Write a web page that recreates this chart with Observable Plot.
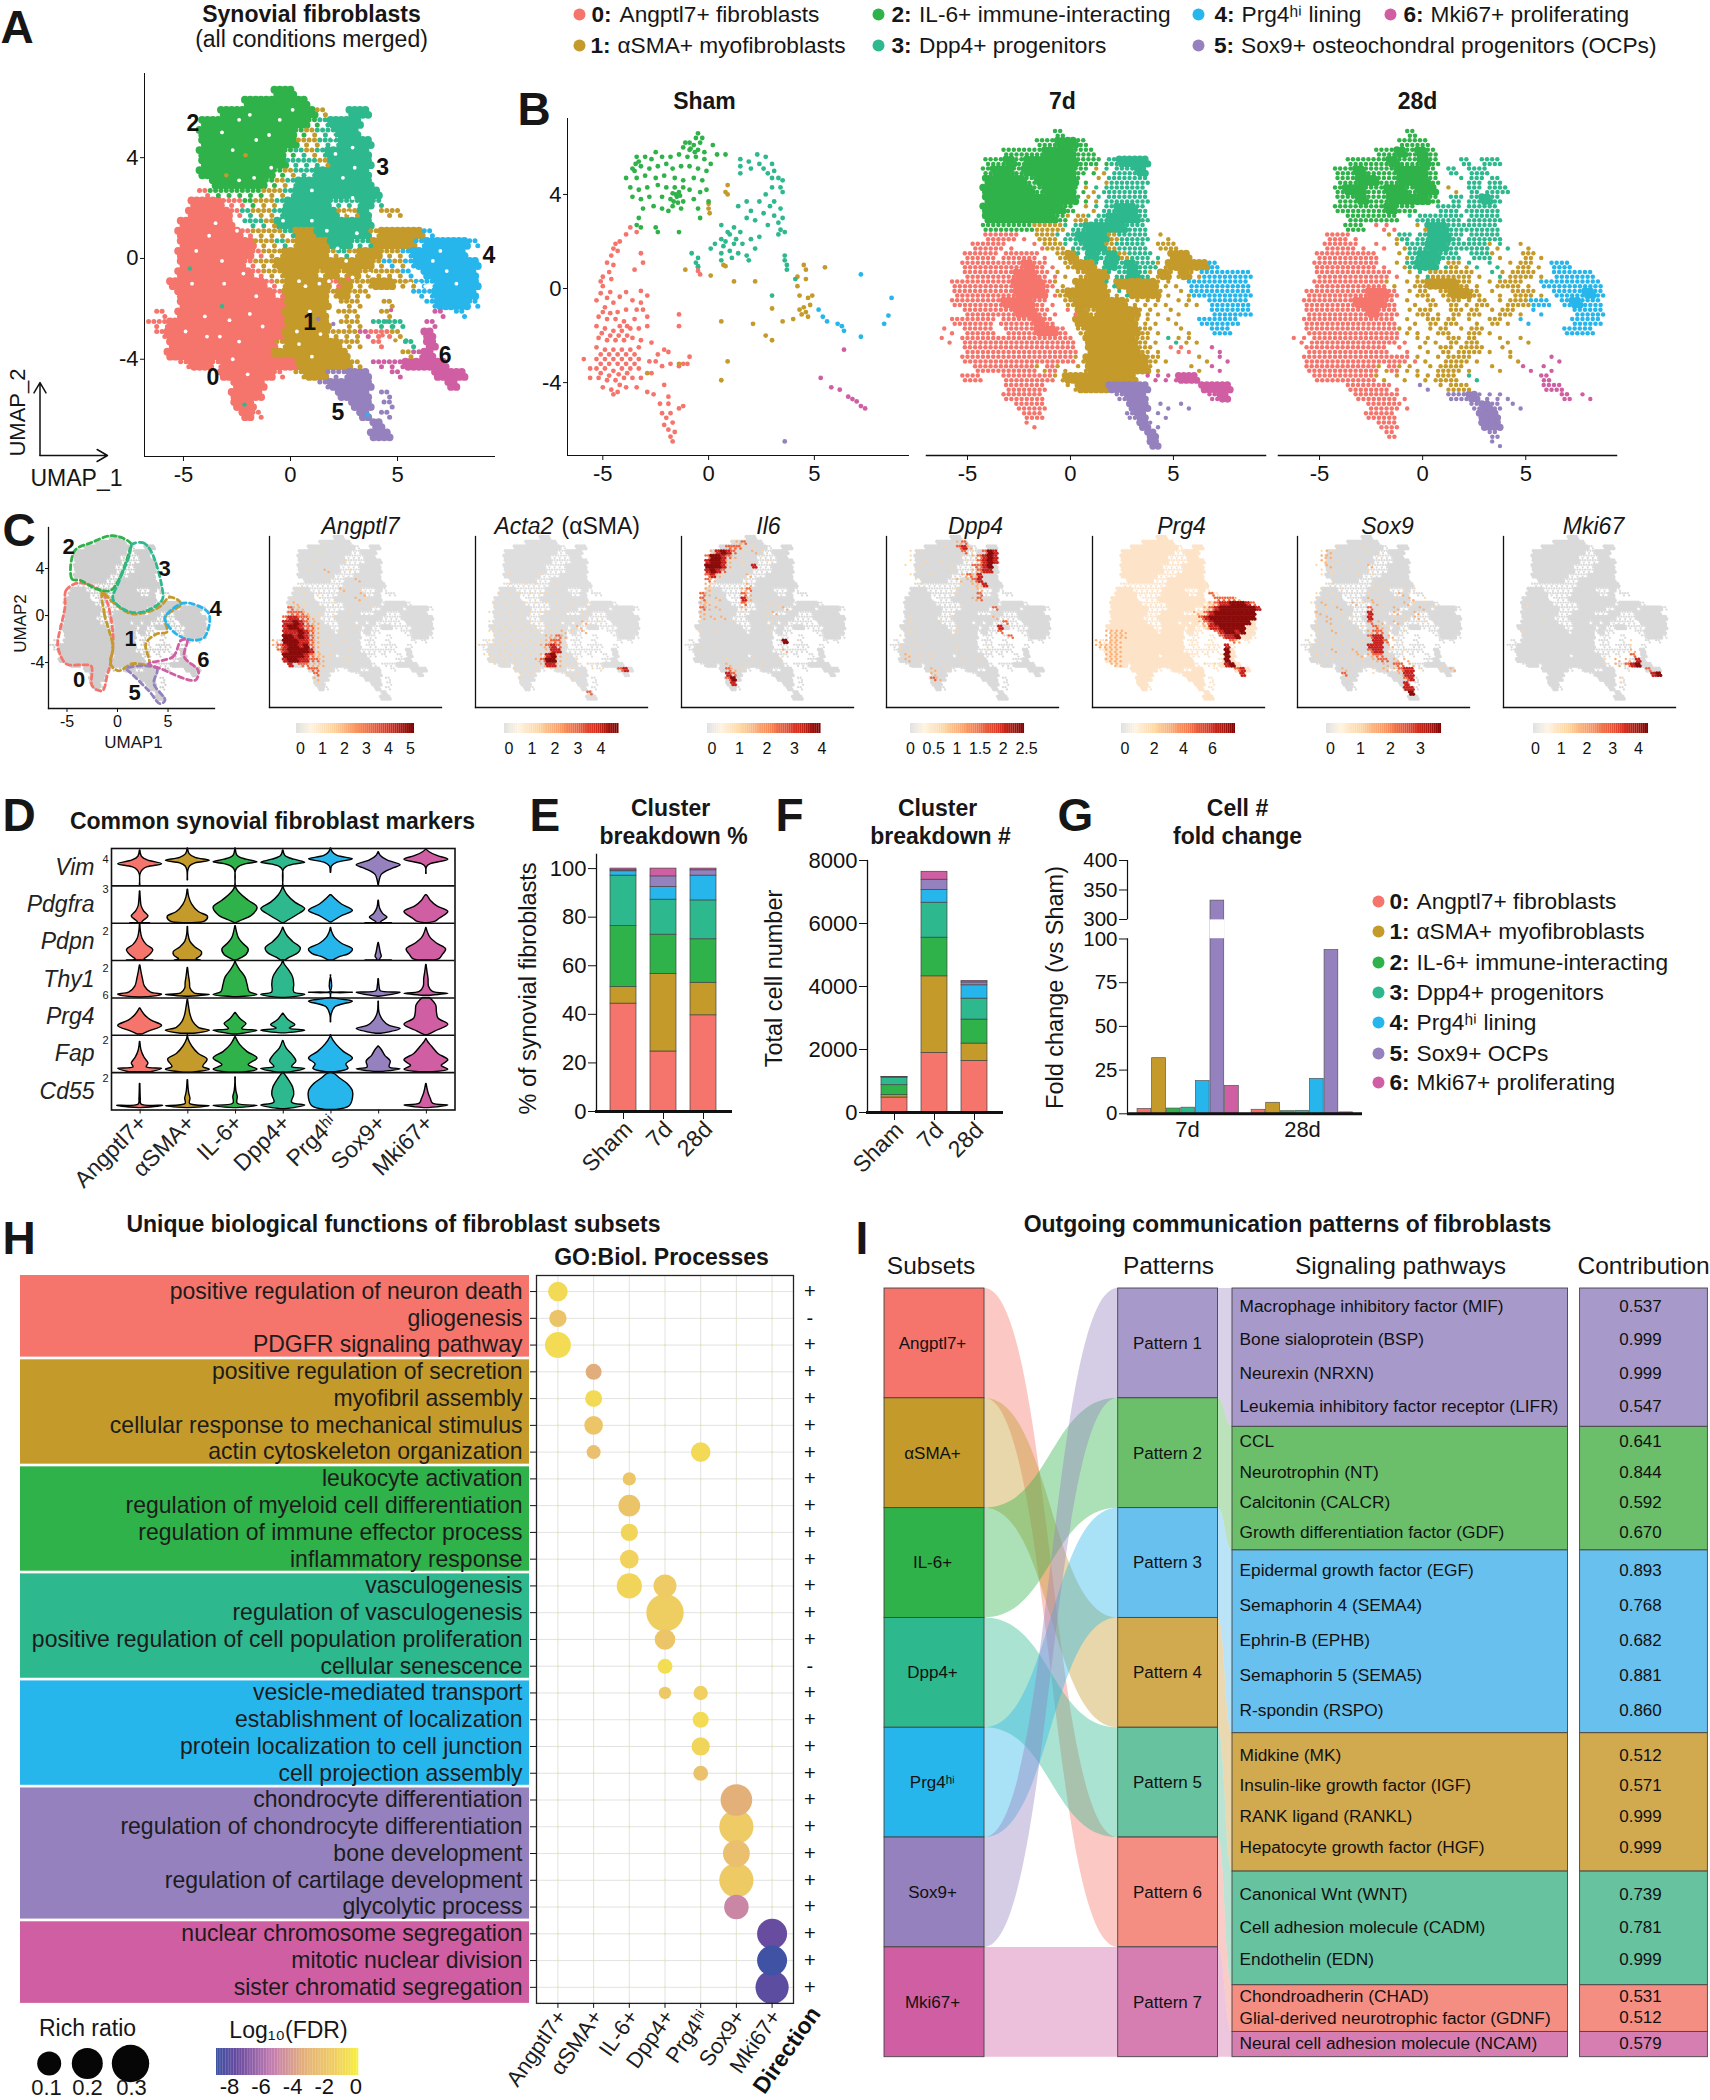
<!DOCTYPE html>
<html><head><meta charset="utf-8">
<script src="https://cdn.jsdelivr.net/npm/d3@7"></script>
<script src="https://cdn.jsdelivr.net/npm/@observablehq/plot@0.6"></script>
<style>html,body{margin:0;background:#fff}#chart{position:relative;width:1710px;height:2100px;overflow:hidden}</style>
</head><body><div id="chart"></div>
<script>
const FONT="'Liberation Sans',Arial,sans-serif";
const clusterIds=[0,1,2,3,4,5,6];
const clusterColors=["#f5756c","#c49a2a","#30b24a","#2eb88e","#27b6ec","#9581bd","#d05ea3"];
const clusterNames=["Angptl7+ fibroblasts","αSMA+ myofibroblasts","IL-6+ immune-interacting","Dpp4+ progenitors","Prg4ʰⁱ lining","Sox9+ OCPs","Mki67+ proliferating"];
const subsetNames=["Angptl7+","αSMA+","IL-6+","Dpp4+","Prg4ʰⁱ","Sox9+","Mki67+"];

// UMAP occupancy: digit=dense cluster, capital=medium, lowercase=sparse (a=0..g=6)
const mapMerged=[
"............22",".........222222",".......222222222b..33",".....2222222222cd333",".....222222222cbdd33",
".....222222222bbdd333",".....22222222cdbd3333",".....22222222dddb3333",".....2222222cbdd33333","......22222cbd3333333",
".....acccccbbd33333333","....000aacbbd3333ddd3d","....0000adbbd33333bb3.bb","...00000.ddb333333333","...000000abbbd1133333b1111e",
"...0000000bbdb11133dd1111e4444e","...0000000abb1111bdb11bbe44444","...000000abb111111111bebe444444","...0000000abb111b1b1bbbbe.44444","..000000000ab1111a1bb11bbee4444",
"...000000000a1111b1bb....ee4444","...00000000001111.bb..b...e444e",".a.00000000001111.bb..b....g.e","aa000000000001111.bb.ddd..g",".a000000000001111bbbgaab..6",
"..0000000000b11111bb.a..d.6","..00000000001111111.....bg6","...a00a000000011111b.ggg6666",".......00000a.b11ff55..g...666","........000.....f5555.......6",
"........000.......555.f","........00.........55.f",".........0a.........5.f",".....................5",".....................55"];
const map7d=[
"............C","..........CC22C",".......CCCC222CC",".....CC2C22222CCcD333",".....C22C22222CcbdDD3",
".....2222C2222c.bDDDD",".....22222C222cbdDDDD",".....222222222cbdDDDD",".....22222222C.bdD33D",".....2222222CbBdD333D",
".....CCCCCBBBdD3333DD",".....AAAa.BBdD333BDDD.b","....AAAa..aBBdD33BDDD.BB","...AAAaAAAa.B1d3D3BDDd.11","...AAAAAA0Aa.B11d3D3DDb1111E",
"...AAAAA00Aab.B11dD3Db1b1bEEEEE","..AAAAAA000Ab.111d1111bb.EEEEEE","..AAAAAA000aB1111bd111b.bEEEEEE","..AAAAA000Aa.B11111bbbb.bb.EEEE","...AAAAA00Aa.a1B1111bb.b...EEEE",
"..AAAAaAAA0A..111111bb.b..EEEE",".a.AAA.AAA00A.B11111Bb..b..EE",".a.AAAAAAAAAAA.11111Bb.dbb","...AAAAAAAAAAA.11111Bb.aa..g","...AAAAAAAAAAAb111111Bb...b.g",
"....AAAAAAbAb.b111111b...b.g","...AA..AAAAAb1111111.ggg66",".......AAAA..b1115555.....666",".......AAAA.......F55......G6","........AAA........55.f.f",
".........AA........F5.f",".........a..........5f",".....................5",".....................5"];
const map28d=[
"............C","...........CCC",".........CC2C2C","......CCCC2CC2C..D.DD",".....CC2CCC222C.D.DD",
".....CC22CC222C..dDdD",".....C22CC22C22.b.DdDD",".....CC2CC2222C.DdD3D",".....CCCCC2CC..DDdDDD","......CCCCC.dDDDDdDDD",
"......CC.aa..b33DDDDD","....AAa...bDdD33DdDDD","....AAAa.a.bDD33DDDDbd.b","...AAAAAA..bD33DD.DDb..Bb","...AAAAAAa.bD33dBbd.d.bBb.EE",
"...AAAAAAAa.bdBBBBb.dbBBb.EEEE","...AAAAAAAb.bB111Bb.bBBb.EEEEEE","..AAAAAA00A.bB.B11B.b.BBb.EEE4E","..AAAAA000A.b.B.BbbB.bBBEE.E4EE","..AAAAAA0AA.bBb.BbB.bBb.e...EEE",
"..AAAAAAAAA.b.BbB.b.Bb.e....EEE","..AAAAAAAAAbb.bB.bBb.......EEE",".aaAAAAAAAAa.bb.BbB..b.b","..AAAAAAAA.a.b.BbBBb.b","..AAAAAAAAAAab.bBBb...b...g",
"..AAAAAAAbAbb.bBBb..b..g.g","...AAAAAAb.b.bbBB.d......G","......AAAAa..f.bBB.......GG",".......AAAAa....FF5fff.....G.g","........AAAa......F5F.f",
"........AAA........55",".........AA........55","..........A.........F","....................f"];

// Sham cells (few enough to read one at a time): [umap x, umap y]
const shamFibro=[[-3.7,2.6],[-3.9,2.3],[-3.4,2.4],[-4.2,2],[-4.4,1.9],[-4.5,1.7],[-4.3,1.6],[-4.6,1.4],[-3.2,1.5],[-3.1,1.1],[-4.8,1.1],[-4.5,1],[-4.7,.7],[-5,.5],[-5.1,.3],[-4.6,.4],[-3.5,.8],[-5,.1],[-5.1,-.2],[-4.8,-.4],[-4.5,-.6],[-3.6,-.5],[-3.2,-.1],[-2.9,-.3],[-3.2,-.6],[-3.4,-.9],[-5.3,-.5],[-4.9,-.8],[-4.3,-1],[-3.9,-.9],[-3.1,-.9],[-2.9,-1.2],[-5.2,-1.2],[-4.8,-1.3],[-4.4,-1.3],[-4,-1.4],[-3.5,-1.3],[-5.3,-1.6],[-4.9,-1.7],[-4.5,-1.8],[-4.1,-1.8],[-3.7,-1.7],[-3.3,-1.7],[-2.9,-1.6],[-5.2,-2.1],[-4.8,-2.2],[-4.4,-2.2],[-4,-2.2],[-3.6,-2.1],[-3.2,-2.2],[-2.7,-2.3],[-5.3,-2.5],[-4.9,-2.6],[-4.5,-2.6],[-4.1,-2.6],[-3.7,-2.6],[-3.3,-2.5],[-5.9,-3],[-5.3,-3],[-4.9,-3],[-4.5,-3],[-4.1,-3],[-3.7,-3],[-3.3,-3],[-2.8,-3.1],[-5.6,-3.4],[-5.3,-3.4],[-4.9,-3.4],[-4.5,-3.5],[-4.1,-3.4],[-3.7,-3.4],[-3.3,-3.4],[-5.6,-3.8],[-5.2,-3.8],[-4.8,-3.9],[-4.4,-3.9],[-4,-3.8],[-3.6,-3.8],[-3.2,-3.8],[-5,-4.2],[-4.6,-4.3],[-4.3,-4.4],[-3.9,-4.2],[-3.4,-4.2],[-4.5,-4.5],[-4.2,-4.1],[-1.4,-1.1],[-1.4,-1.6],[-2.7,-3.6],[-2.1,-2.6],[-2.4,-2.8],[-1.9,-2.7],[-2.5,-3.1],[-2.2,-3.3],[-1.8,-3.2],[-1.4,-3.3],[-1.2,-3.2],[-1,-3.2],[-.9,-2.9],[-2.9,-4.4],[-2.6,-4.5],[-2.1,-4.1],[-1.9,-4.6],[-1.9,-4.9],[-2.3,-4.9],[-1.4,-5.1],[-1.2,-5],[-2.2,-5.3],[-2,-5.5],[-1.8,-5.3],[-2.1,-5.8],[-1.9,-6],[-1.6,-6.1],[-1.8,-6.3],[-1.7,-6.5],[-1.7,-5.7],[-.5,.75],[-.4,.6],[-.5,.9],[-4.65,-.15],[-4.2,-.35],[-3.9,-.15],[-5,-1],[-4.65,-1.05],[-4.2,-1.6],[-3.85,-1.6],[-5.05,-1.9],[-4.65,-2],[-4.25,-2],[-3.85,-2],[-5.1,-2.8],[-4.7,-2.8],[-4.3,-2.8],[-3.9,-2.8],[-3.5,-2.8],[-5.1,-3.2],[-4.7,-3.2],[-4.3,-3.2],[-3.9,-3.2],[-3.5,-3.2],[-5.1,-3.6],[-4.7,-3.7],[-4.25,-3.65],[-3.85,-3.6]];
const shamGold=[[0,3.6],[0,3.4],[.05,3.2],[.9,4.4],[.8,4.1],[.9,4],[.7,1],[.8,.95],[-1.1,.8],[.1,.55],[1.2,.3],[2.2,.3],[4.5,1],[4.6,.8],[5.5,.9],[4.6,.4],[4.2,.1],[4.3,-.3],[4.7,-.4],[4.9,-.3],[4.8,-.7],[4.5,-.8],[4.3,-.9],[4.4,-1.1],[4.6,-1],[4.7,-1.2],[3,-.85],[3.5,-1.4],[4,-1.3],[4.2,.5],[3,-2.2],[2.7,-2],[.6,-1.4],[2.1,-1.5],[.9,-3.1],[.6,-3.9],[-1.4,-3.2],[-2.9,-3.6]];
const shamGreen=[[-.5,6.6],[-.6,6.4],[-.3,6.4],[-.9,6.2],[-1.1,6.2],[-.7,6.1],[-.4,6.2],[.2,6.1],[-1.2,6],[-.9,5.9],[-.5,5.9],[-.2,5.8],[.4,5.7],[.8,5.7],[-2.5,5.8],[-3,5.6],[-3.4,5.6],[-3.3,5.4],[-2.7,5.5],[-2.2,5.6],[-1.8,5.6],[-1.4,5.7],[-1,5.6],[-.6,5.6],[-.2,5.5],[.1,5.3],[-3.6,5.1],[-3.2,5.2],[-2.8,5.1],[-2.4,5.2],[-2,5.3],[-1.7,5.1],[-1.3,5.2],[-.9,5.2],[-.5,5.1],[-.1,5],[-3.9,4.7],[-3.4,4.7],[-3,4.8],[-2.5,4.7],[-2.1,4.8],[-1.6,4.7],[-1.2,4.6],[-.7,4.7],[-.3,4.6],[-3.7,4.3],[-3.3,4.2],[-2.9,4.3],[-2.4,4.4],[-2,4.3],[-1.6,4.3],[-1.4,4.1],[-1.2,4.3],[-.9,4.2],[-.4,4.1],[-.1,4.2],[-3.6,3.9],[-3.2,3.8],[-2.8,3.9],[-2.2,3.9],[-1.8,3.8],[-1.5,3.9],[-1.2,3.7],[-.7,3.8],[-3.1,3.4],[-2.6,3.5],[-2.2,3.4],[-1.9,3.3],[-1.7,3.5],[-1.3,3.4],[-.5,3.4],[-.4,3],[0,3.7],[-3.3,3],[-3.4,2.7],[-3.2,2.6],[-2.5,2.6],[-2.4,2.4],[-1.4,2.4],[-3.45,5.3],[-3.5,5],[-1.55,4],[-1.35,3.95],[-1.65,3.7],[-1.45,3.65],[-1.7,4.05],[-.85,5.95],[-.65,5.8]];
const shamTeal=[[2.3,5.7],[2.7,5.6],[1.5,5.5],[1.9,5.4],[2.4,5.3],[3,5.3],[1.5,5.2],[2,5.1],[2.6,5.1],[3.1,5],[2.8,4.9],[3,4.7],[3.3,4.7],[3.5,4.6],[1.5,4.9],[3.4,4.3],[3,4.3],[2.7,4],[3.5,4.1],[2.4,3.7],[1.8,3.7],[3.1,3.7],[2.9,3.5],[3.4,3.4],[1.4,3.5],[2,3.3],[2.6,3.2],[3.1,3.1],[3.5,3],[3.3,2.8],[1.8,3],[2.2,2.9],[2.8,2.7],[3.4,2.5],[3.6,2.4],[3.3,2.3],[.6,2.7],[1.2,2.6],[.9,2.4],[1.5,2.4],[.6,2.1],[.8,2],[1,2.3],[1.3,2.1],[.3,1.9],[.7,1.8],[1.2,1.9],[1.6,1.9],[2,2.1],[2.4,2.2],[.1,1.7],[.6,1.5],[1,1.6],[1.4,1.5],[1.8,1.4],[2.2,1.7],[-.8,1.5],[-.5,1.3],[-.6,1.1],[.6,1.2],[1.1,1.3],[1.9,1.2],[3.6,1.4],[3.6,1.2],[3.7,1],[3.7,.8],[-.5,.95],[4.1,.4],[3,-.3]];
const shamBlue=[[7.2,.6],[5.2,-.9],[5.4,-1.2],[5.6,-1.4],[6.1,-1.5],[6.3,-1.6],[6.4,-1.8],[8.65,-.4],[8.5,-1.15],[8.3,-1.5],[7.2,-2.05]];
const shamPink=[[6.4,-2.6],[5.3,-3.8],[5.8,-4.2],[6.2,-4.3],[6.6,-4.6],[6.8,-4.7],[7,-4.8],[7.2,-5],[7.4,-5.1]];
const shamPurple=[[3.6,-6.5]];

// Stray differently coloured cells in the merged map: [x,y,cluster]
const strayMerged=[[-4.7,-.4,3],[-3.2,-1.9,3],[-2.15,-5.8,3],[-2.1,4.1,1],[-3,3.3,1],[3.6,-6.2,4],[4.7,-2.05,6],[4.5,-2.5,3],[4.8,-2.7,3],[5.4,-3.25,3],[4.1,-3.1,0],[4.3,-3.05,0],[4.6,-1.7,1],[4.9,-3.25,1],[2.7,-.8,0],[1.3,-2.4,5],[2,-2.6,5]];
// Gaps inside the dense merged map: [x,y]
const gapsMerged=[[-2.4,5.5],[-.5,5.5],[.1,5.9],[-2.7,4.3],[-1.6,4.7],[-2.4,3.1],[-3.5,1.4],[-2.5,1.1],[-3.2,-.1],[-2.85,-2.45],[-3.3,-3.1],[-3.9,-3.1],[-1.9,-2.2],[-2.4,-3.3],[-1.6,-1.5],[-1.3,-2.7],[.4,-.9],[1.35,-1],[1.8,-.9],[.7,-1.1],[1,-3.9],[.4,-3.4],[2.6,-.1],[2.9,-.75],[3.7,-.6],[2.1,4.15],[2.45,3.2],[2.9,2.4],[2,4.8],[2.9,4.4],[1,2.7],[-.35,1.5],[1.7,1.1],[3.1,1],[6.65,-.1],[7.3,-.5],[7.75,-1],[7,.3],[5.6,-1],[6,-1],[6.3,-1.1],[-1,4.9],[-3.2,5],[-1.9,5.7],[-.9,3.6],[-1.7,3.2],[-4.4,.3],[-3.8,.9],[-4.6,-1],[-3.1,-1],[-4,-2.3],[-4.9,-2.9],[-2.2,-.6],[-2.7,-4],[-2,-4.6],[.9,-2.1],[.3,-2.9],[1.4,-3],[2.7,1.8],[2.2,.4],[1,1.5],[3,3.6]];

const hotAngptl7=["","","",".........1","",
"........1.....1","",".......1..2....1","","...........1....2","",".....1.......2...1","......1..1....1..2","....1....1......2.1","....2.1.....1....1",
"...3221..1.........1","...33321.1.....1","..34433211..1","..44543221....1","..45543321......1","..44454321...1","..5545432..1..1","2.5554432.1...1","2345545321.1",".345555421..1..1","..55554322.1","..45544332.1..11","...4.332221...1",".......331.1","........31","........21",".........1"];
const hotActa2=["","","","","","","","","......1.....1","","......1..1.1...1","","....1.1.1.1.11.1","","...1.1.1.1.1.1.1..1..1","","..1.1.1.1.1.11.1.1..11","","..1.1.1.1.1.1.1.1.1.21.1","...1.1.1.1.1.1.1...2","..1.1.1.1.1.1.1.2.1.2","...1.1.1.1.1.2232","..1.1.1.1.1.12331","11.1.1.1.1.12343.1","..1.11.1.1.1.2441",".11.1.1.1.1.2452.1","..11.1.1.1.23552.1.1","...1.1.1.1.12442.1.1.1.1",".......1.1.1..11..1...1.1..34","........1.1......1.1","........1.........1","","",".....................3"];
const hotIl6=["",".........123","........3331.1",".....24543.1.2.1","....355432.1...1","....455421.1....1","....55542..1.4","....4543.1","....3421....2","....321.....1","....21......2","....21.....23","...321.....32","...31.2....42.1","...2211....31....1","...32.2....2....1.12","...21.1....1....12","...2.2.2........1","...1..1..1.......1","","...1..1.........1","","...................5","","...1..1............2","","........1....1....1","........2...1..1","........32.1","........43","........35",".........4"];
const hotDpp4=["",".............23","...........1.342","....1.1.......3.1.354","....1...1.....1.23454","....1..1..1....1.3454","...1..1.....1...3345",".....1......1...2344","....1...1.....2324",".....1.......2.234","......1.......1.224",".............1..12",".............1...3","................23","","....................3","","....1.......1.......2","....1.....1...........3","...1.1.......1.......4","....1........1.......3","..1..1......1..........3","","..1..1.......1","..1.1........1.....1","...21.1.1","...2..1.1.....1..1","","........2..1","........21","........32"];
const hotPrg4=["","","","","","","","","","","","","......................3",".......................33332","......................234455543",".....................23455555554","...................2.3455555555.","....................34555555555","....................2345555555",".....................24455555","..2222.................345545","..2222..................3445","2.222.....................32","22222....................4","..222....................5","..222....................5","..222....................5","...22................1.1.45","...........................34","............................4"];
const hotSox9=["","",".......1....1","....121......1","....221..1.....1","....21.1...1","...1.21......2","....1.1..1...1","....1.1....1..1","","......1.......1.1","....1...1.....11.1..1.1","...1..1......1.....2.1","...1.1.1.....2.1..1..2..1","..1.2.1...2.1.2.1...2.1.1","...1.1.2.....3..1.2..1.2..1","...2.1..1....4.1..2...2","...1.2.1..1..41...1.1.2","...1.2...1...3.2..2.1...1","...1..1.1...1.32.1","...1..2....1.233.1..1","..1.1.1..1...344.2","...1..1.1.1.1.443.1","..1.1.1.1..1.444.2","...1..2...2..344.1..1","...1.1...1.2.233.1","...1..1.1.1.1.233.2.2","....1.....1.1.1.2.33.2","........2.....1.2.2344.1...1.2","........3.....1....244",".........1..........34","....................4","....................44",".....................5"];
const hotMki67=["","","","","","","","","","","","","","","","....1","","",".......1","","...1","","........................1","........................1","........................2","........................3","...................1.2.2.4","...................1.2.345","...........................3","............................45","......................1","......................1"];

// Region outlines for the small reference UMAP: [x,y]
const outline0=[[-4,2.75],[-5.1,2.13],[-5.2,.7],[-5.9,-2.13],[-5.9,-2.7],[-5.1,-4.1],[-3.5,-4.2],[-2.6,-4.3],[-2.5,-6],[-1.5,-6.4],[-1,-5],[-.7,-4.1],[-.45,-1.6],[-1.4,1.85],[-2.6,2.55]];
const outline1=[[-1.5,2],[-1.3,.14],[-.45,-2.7],[-.7,-4.1],[.1,-4.7],[1.45,-4.1],[3.1,-4.1],[2.8,-2.4],[3.9,-1.56],[4.9,-1.4],[4.7,-.14],[6.3,1],[5.2,1.56],[4.1,.7],[1.45,.14],[-.45,1.13]];
const outline2=[[-4.25,5.5],[-4.5,3.1],[-3.7,3],[-2.1,2.27],[-.7,2.13],[.1,3],[1.2,5.5],[1.35,6.1],[-.45,6.8],[-2.6,6.2]];
const outline3=[[1.35,6],[2.5,6.2],[3.3,5.5],[4.4,2.4],[4.4,1.3],[2.5,.3],[.9,.4],[-.45,1.4],[.1,2.8],[1.2,5.2]];
const outline4=[[4.7,-.14],[6.3,1],[7.4,1],[9.05,.14],[8.6,-1.84],[7.4,-2.1],[5.8,-1.56],[4.9,-.7]];
const outline5=[[.9,-4.5],[3.9,-4.5],[3.6,-5.8],[4.7,-7.2],[4.2,-7.5],[3.1,-6.4],[1.45,-5]];
const outline6=[[3.1,-4.1],[5.5,-3.5],[6.3,-2.1],[6.9,-2.1],[6.6,-3.5],[8,-4.7],[7.7,-5.5],[4.2,-4.5]];

// Panel D: violin outlines, [height in row 0..1, half width 0..1], one list per cluster
const vimViolins=[[[0,.01],[.3,.015],[.42,.12],[.5,.35],[.58,1],[.68,.35],[.78,.08],[.95,.01]],[[.15,.01],[.4,.02],[.52,.1],[.6,.35],[.67,1],[.75,.35],[.85,.08],[1,.01]],[[0,.01],[.4,.02],[.5,.15],[.58,.5],[.63,1],[.7,.5],[.8,.1],[1,.01]],[[0,.01],[.42,.02],[.5,.15],[.57,.5],[.62,1],[.7,.5],[.8,.1],[.95,.01]],[[.35,.01],[.52,.05],[.62,.3],[.71,1],[.8,.3],[.9,.08],[1,.01]],[[.02,.01],[.15,.05],[.3,.15],[.45,.6],[.55,1],[.68,.4],[.8,.1],[.9,.01]],[[.32,.01],[.5,.03],[.58,.2],[.7,1],[.8,.5],[.9,.15],[.97,.01]]];
const pdgfraViolins=[[[0,.45],[.02,.1],[.08,.2],[.18,.38],[.32,.18],[.45,.07],[.65,.03],[.85,.01]],[[0,.2],[.05,.8],[.17,.92],[.3,.5],[.5,.2],[.7,.06],[.9,.01]],[[0,.04],[.05,.2],[.2,.75],[.42,1],[.6,.6],[.8,.2],[.92,.05],[1,.01]],[[0,.04],[.06,.2],[.2,.6],[.38,1],[.55,.55],[.75,.2],[.9,.05],[.98,.01]],[[.02,.03],[.1,.25],[.2,.55],[.33,1],[.5,.5],[.65,.2],[.75,.03]],[[0,.6],[.02,.1],[.1,.3],[.15,.4],[.25,.2],[.4,.06],[.6,.01]],[[0,.05],[.05,.45],[.12,.6],[.3,1],[.45,.5],[.6,.2],[.72,.07],[.75,.02]]];
const pdpnViolins=[[[0,.6],[.03,.2],[.12,.4],[.28,.6],[.42,.3],[.6,.1],[.8,.03],[.98,.01]],[[0,.6],[.04,.4],[.12,.6],[.22,.65],[.35,.35],[.5,.12],[.7,.03],[.9,.01]],[[0,.05],[.06,.25],[.15,.5],[.3,.6],[.45,.35],[.6,.15],[.8,.05],[.92,.01]],[[0,.1],[.08,.3],[.2,.7],[.33,.8],[.5,.45],[.65,.2],[.8,.06],[.88,.01]],[[0,.1],[.08,.35],[.18,.85],[.3,1],[.45,.5],[.6,.2],[.75,.06],[.87,.01]],[[0,.6],[.02,.06],[.1,.14],[.2,.1],[.35,.05],[.47,.01]],[[0,.2],[.04,.6],[.15,.75],[.3,.9],[.45,.5],[.6,.2],[.75,.07],[.87,.01]]];
const thy1Violins=[[[.01,.02],[.06,.9],[.09,1],[.14,.5],[.3,.22],[.5,.13],[.7,.06],[.87,.01]],[[.03,.02],[.08,1],[.12,.3],[.25,.12],[.4,.1],[.6,.05],[.8,.01]],[[.02,.1],[.08,1],[.15,.65],[.35,.55],[.55,.45],[.75,.2],[.9,.05],[.97,.01]],[[0,.1],[.08,1],[.15,.5],[.35,.5],[.55,.45],[.75,.25],[.9,.06],[1,.01]],[[0,.01],[.11,.01],[.14,1],[.17,.01],[.6,.01]],[[.03,.01],[.14,1],[.18,.1],[.3,.04],[.5,.01]],[[.06,.2],[.11,1],[.16,.3],[.3,.12],[.5,.1],[.7,.05],[.88,.01]]];
const prg4Violins=[[[.02,.1],[.1,.4],[.25,1],[.4,.5],[.55,.2],[.72,.01]],[[.04,.3],[.12,1],[.2,.5],[.35,.25],[.55,.12],[.75,.06],[.95,.01]],[[.02,.1],[.12,1],[.17,.3],[.3,.5],[.42,.25],[.6,.01]],[[.05,.1],[.12,1],[.18,.3],[.27,.55],[.4,.25],[.58,.01]],[[.35,.01],[.55,.03],[.75,.2],[.9,1],[.96,.4],[1,.01]],[[.04,.1],[.17,1],[.25,.5],[.4,.2],[.6,.04],[.9,.01]],[[0,.05],[.1,.4],[.28,1],[.45,.55],[.62,.48],[.8,.45],[.95,.25],[1,.15]]];
const fapViolins=[[[.01,.5],[.1,1],[.14,.3],[.25,.38],[.4,.2],[.6,.06],[.82,.01]],[[0,.2],[.08,1],[.15,.7],[.35,.9],[.5,.5],[.7,.2],[.9,.03],[1,.01]],[[0,.3],[.08,1],[.2,.6],[.38,1],[.55,.55],[.75,.2],[.95,.01]],[[0,.2],[.1,1],[.15,.4],[.3,.6],[.45,.45],[.65,.15],[.85,.01]],[[.01,.2],[.1,.8],[.22,.7],[.38,1],[.55,.6],[.75,.25],[.95,.03],[1,.01]],[[.02,.2],[.09,1],[.14,.5],[.3,.55],[.45,.3],[.6,.15],[.7,.01]],[[.01,.3],[.08,1],[.18,.7],[.33,1],[.5,.55],[.7,.25],[.82,.08],[.9,.01]]];
const cd55Violins=[[[.05,.02],[.11,1.05],[.15,.06],[.3,.03],[.45,.02],[.7,.01]],[[.05,.02],[.1,1],[.16,.1],[.3,.12],[.45,.06],[.6,.03],[.8,.01]],[[.05,.05],[.11,1],[.17,.1],[.35,.1],[.5,.04],[.7,.01],[.87,.01]],[[.02,.1],[.12,1],[.2,.4],[.4,.5],[.6,.45],[.85,.2],[.97,.05],[1,.01]],[[0,.25],[.1,.85],[.3,1],[.5,1],[.7,.75],[.85,.4],[.95,.2],[1,.02]],[],[[.05,.1],[.12,1],[.17,.3],[.3,.2],[.45,.1],[.7,.01]]];
const violinGenes=["Vim","Pdgfra","Pdpn","Thy1","Prg4","Fap","Cd55"];

// Panels E, F, G
const samples=["Sham","7d","28d"];
const pctSham=[44.4,6.8,25.2,20.7,1.8,.4,.7];
const pct7d=[24.7,31.9,16.2,14.4,5.2,4.4,3.2];
const pct28d=[39.6,13.4,17.9,16,10.2,2.2,.7];
const countSham=[476,74,317,243,10,4,7];
const count7d=[1892,2431,1227,1110,400,330,252];
const count28d=[1638,550,762,665,423,92,45];
const fold7d=[2.8,31.8,3,3.5,18.7,332,16];
const fold28d=[2.3,6.3,1.5,1.7,20,93.7,.8];

// Panel H
const goTerms=["positive regulation of neuron death","gliogenesis","PDGFR signaling pathway","positive regulation of secretion","myofibril assembly","cellular response to mechanical stimulus","actin cytoskeleton organization","leukocyte activation","regulation of myeloid cell differentiation","regulation of immune effector process","inflammatory response","vasculogenesis","regulation of vasculogenesis","positive regulation of cell population proliferation","cellular senescence","vesicle-mediated transport","establishment of localization","protein localization to cell junction","cell projection assembly","chondrocyte differentiation","regulation of chondrocyte differentiation","bone development","regulation of cartilage development","glycolytic process","nuclear chromosome segregation","mitotic nuclear division","sister chromatid segregation"];
const goBlockSizes=[3,4,4,4,4,5,3];
const goDirection=["+","-","+","+","+","+","+","+","+","+","+","+","+","+","-","+","+","+","+","+","+","+","+","+","+","+","+"];
const goRow=[0,1,2,3,4,5,6,6,7,8,9,10,11,11,12,13,14,15,15,16,17,18,19,20,21,22,23,24,25,26];
const goCol=[0,0,0,1,1,1,1,4,2,2,2,2,2,3,3,3,3,3,4,4,4,4,5,5,5,5,5,6,6,6];
const goRich=[.067,.05,.128,.04,.047,.06,.025,.067,.02,.083,.05,.06,.117,.092,.3,.075,.032,.013,.028,.04,.057,.032,.21,.25,.14,.25,.108,.186,.186,.235];
const goFdr=[-.8,-2,-.7,-3.4,-.8,-1.9,-2.3,-.8,-1.8,-2,-1,-1.1,-1,-1.5,-1.3,-1.9,-.6,-1.7,-1.2,-.7,-1,-2.2,-3.3,-1.5,-2.3,-1.6,-4.9,-7.6,-8.8,-7.9];

// Panel I
const patternNames=["Pattern 1","Pattern 2","Pattern 3","Pattern 4","Pattern 5","Pattern 6","Pattern 7"];
const patternColors=["#a899cb","#6bbf6b","#68c0ee","#d1aa4f","#67c29f","#f58e82","#d67eb1"];
const subsetToPattern=[5,3,1,4,2,0,6];
const pathwayNames=[["Macrophage inhibitory factor (MIF)","Bone sialoprotein (BSP)","Neurexin (NRXN)","Leukemia inhibitory factor receptor (LIFR)"],["CCL","Neurotrophin (NT)","Calcitonin (CALCR)","Growth differentiation factor (GDF)"],["Epidermal growth factor (EGF)","Semaphorin 4 (SEMA4)","Ephrin-B (EPHB)","Semaphorin 5 (SEMA5)","R-spondin (RSPO)"],["Midkine (MK)","Insulin-like growth factor (IGF)","RANK ligand (RANKL)","Hepatocyte growth factor (HGF)"],["Canonical Wnt (WNT)","Cell adhesion molecule (CADM)","Endothelin (EDN)"],["Chondroadherin (CHAD)","Glial-derived neurotrophic factor (GDNF)"],["Neural cell adhesion molecule (NCAM)"]];
const pathwayContribution=[[.537,.999,.999,.547],[.641,.844,.592,.67],[.893,.768,.682,.881,.86],[.512,.571,.999,.999],[.739,.781,.999],[.531,.512],[.579]];
const pathwayBlockEdges=[0,1.26,2.385,4.05,5.31,6.345,6.77,7];

// ---------- helpers ----------
const host=document.getElementById("chart");
const put=(p,l,t)=>{p.style.position="absolute";p.style.left=l+"px";p.style.top=t+"px";host.append(p);return p;};
const base=(w,h,o)=>({width:w,height:h,margin:0,style:{background:"transparent",overflow:"visible",fontFamily:FONT,maxWidth:"none",color:"#111"},...o});
const clusterScale={type:"ordinal",domain:clusterIds,range:clusterColors};
const letterCluster={a:0,b:1,c:2,d:3,e:4,f:5,g:6,A:0,B:1,C:2,D:3,E:4,F:5,G:6};
// every occupied grid cell is drawn as a little brick-laid group of dots inside its square
const corners=[[-.19,.1],[.19,-.1],[.06,.1],[-.06,-.1]];
const decode=(rows,sparseCount=2)=>rows.flatMap((row,r)=>[...row].flatMap((ch,c)=>{
  if(ch===".") return [];
  const x=-6.5+.5*c+(r%2?.06:-.06), y=6.6-.4*r;
  const dense=/[0-6]/.test(ch), med=/[A-G]/.test(ch);
  const k=dense?+ch:letterCluster[ch], d=dense?2:med?1:0;
  return corners.slice(0,d?4:sparseCount).map(([a,b])=>({x:x+a,y:y+b,k,d}));
}));
const levels=rows=>rows.flatMap((row,r)=>[...row].flatMap((ch,c)=>{
  if(!/[1-5]/.test(ch)) return [];
  const v=+ch,x=-6.5+.5*c,y=6.6-.4*r;
  return corners.slice(0,Math.min(v,4)).map(([a,b])=>({x:x+a,y:y+b,v}));
}));
const cellMarks=(cells,rs)=>[2,1,0].map(d=>Plot.dot(cells.filter(e=>e.d===d),{x:"x",y:"y",r:rs[d],fill:"k"}));
const pts=(list,k)=>list.map(([x,y])=>({x,y,k}));
const umapAxisX=(size)=>Plot.axisX({ticks:[-5,0,5],tickSize:5,tickPadding:5,fontSize:size,tickFormat:String,label:null});
const umapAxisY=(size)=>Plot.axisY({ticks:[-4,0,4],tickSize:4,tickPadding:2,fontSize:size,tickFormat:String,label:null});

// ---------- Panel A ----------
put(Plot.plot(base(350,383,{x:{domain:[-6.82,9.53],axis:null},y:{domain:[-7.86,7.34],axis:null},color:clusterScale,marks:[
  ...cellMarks(decode(mapMerged,3),[2.5,2.4,3.9]),
  Plot.dot(gapsMerged,{x:d=>d[0],y:d=>d[1],r:1.9,fill:"white"}),
  Plot.dot(strayMerged,{x:d=>d[0],y:d=>d[1],r:2.2,fill:d=>d[2]}),
  Plot.frame({anchor:"left"}),Plot.frame({anchor:"bottom"}),umapAxisX(22),umapAxisY(22),
  Plot.text(["0","1","2","3","4","5","6"],{x:[-3.63,.89,-4.56,4.31,9.27,2.21,7.23],y:[-4.71,-2.53,5.34,3.62,.12,-6.1,-3.85],text:d=>d,fontSize:23,fontWeight:"bold"})
]})),144,73);

// ---------- Panel B ----------
put(Plot.plot(base(341,337,{x:{domain:[-6.67,9.45],axis:null},y:{domain:[-7.1,7.23],axis:null},color:clusterScale,marks:[
  Plot.dot([...pts(shamFibro,0),...pts(shamGold,1),...pts(shamGreen,2),...pts(shamTeal,3),...pts(shamBlue,4),...pts(shamPink,6),...pts(shamPurple,5)],{x:"x",y:"y",r:2.4,fill:"k"}),
  Plot.frame({anchor:"left"}),Plot.frame({anchor:"bottom"}),umapAxisX(22),umapAxisY(22)
]})),567,118);
[[map7d,926,339,[-6.99,9.47]],[map28d,1278,338,[-6.99,9.4]]].forEach(([m,l,w,dom])=>put(Plot.plot(base(w,337,{x:{domain:dom,axis:null},y:{domain:[-7.1,7.23],axis:null},color:clusterScale,marks:[
  ...cellMarks(decode(m,2),[2.2,2.25,3.6]),
  Plot.frame({anchor:"bottom",strokeWidth:1.5}),umapAxisX(22)
]})),l,118));

// ---------- Panel C ----------
const cellsA=decode(mapMerged,3);
const greyMarks=(color)=>[Plot.dot(cellsA.filter(e=>e.d===2),{x:"x",y:"y",r:1.95,fill:color}),Plot.dot(cellsA.filter(e=>e.d<2),{x:"x",y:"y",r:1.15,fill:color})];
const outlines=[outline0,outline1,outline2,outline3,outline4,outline5,outline6];
put(Plot.plot(base(166,181,{x:{domain:[-6.83,9.6],axis:null},y:{domain:[-7.91,7.49],axis:null},color:clusterScale,marks:[
  ...greyMarks("#cfcfcf"),
  ...outlines.map((o,i)=>Plot.line(o,{x:d=>d[0],y:d=>d[1],stroke:()=>i,strokeWidth:2.8,strokeDasharray:"5 3.5",curve:"catmull-rom-closed"})),
  Plot.frame({anchor:"left",strokeWidth:1.3}),Plot.frame({anchor:"bottom",strokeWidth:1.3}),
  Plot.axisX({ticks:[-5,0,5],tickSize:4,tickPadding:3,fontSize:16,tickFormat:String,label:null}),
  Plot.axisY({ticks:[-4,0,4],tickSize:3,tickPadding:1,fontSize:16,tickFormat:String,label:null}),
  Plot.text(["0","1","2","3","4","5","6"],{x:[-3.8,1.3,-4.85,4.66,9.7,1.7,8.5],y:[-5.5,-1.96,5.8,4.0,.6,-6.6,-3.75],text:d=>d,fontSize:22,fontWeight:"bold"})
]})),48,527);

const genes=[
 {hot:hotAngptl7,left:269,grey:"#dcdcdc"},{hot:hotActa2,left:474.5,grey:"#dedede"},{hot:hotIl6,left:681,grey:"#dadada"},
 {hot:hotDpp4,left:886,grey:"#dadada"},{hot:hotPrg4,left:1092,grey:"#fde3c8"},{hot:hotSox9,left:1297,grey:"#dadada"},{hot:hotMki67,left:1503,grey:"#dadada"}];
const heatScale={type:"ordinal",domain:[1,2,3,4,5],range:["#fdd6a6","#fcae73","#f0653f","#c9201e","#8b0a0a"]};
genes.forEach(g=>{const L=levels(g.hot);
 put(Plot.plot(base(172,171,{x:{domain:[-7.03,9.62],axis:null},y:{domain:[-7.83,6.72],axis:null},color:heatScale,marks:[
  ...greyMarks(g.grey),
  ...[[1,1.15],[2,1.2],[3,1.3],[4,1.5],[5,1.7]].map(([v,r])=>Plot.dot(L.filter(e=>e.v===v),{x:"x",y:"y",r,fill:"v"})),
  Plot.frame({anchor:"left",strokeWidth:1.3}),Plot.frame({anchor:"bottom",strokeWidth:1.3})
 ]})),g.left,536);
});
const bars=[[296,414,300,410,5,[0,1,2,3,4,5]],[503.5,618,508,600,4,[0,1,2,3,4]],[706.5,820,711,821,4,[0,1,2,3,4]],[910,1024,910,1026,2.5,[0,.5,1,1.5,2,2.5]],[1121,1235,1124.5,1212,6,[0,2,4,6]],[1326,1441,1330,1420,3,[0,1,2,3]],[1533,1648,1535,1638,4,[0,1,2,3,4]]];
bars.forEach(([a,b,z,mx,top,ticks])=>{const u=(mx-z)/top,lo=(a-z)/u,hi=(b-z)/u,span=hi-lo,steps=d3.range(60).map(i=>lo+span*i/60);
 put(Plot.plot(base(b-a,10,{x:{domain:[lo,hi],axis:null},y:{domain:[0,1],axis:null},color:{type:"linear",domain:[0,.12,.3,.52,.78,1].map(f=>lo+f*span),range:["#e2e2e2","#fff3e0","#fdd49e","#f98f5b","#d7301f","#7a0000"]},marks:[
  Plot.rect(steps,{x1:d=>d,x2:d=>d+span/60+.001,y1:0,y2:1,fill:d=>d}),
  Plot.axisX({ticks,tickSize:0,tickPadding:9,fontSize:16,tickFormat:String,label:null})
 ]})),a,723);
});

// ---------- Panel D ----------
const violins=[vimViolins,pdgfraViolins,pdpnViolins,thy1Violins,prg4Violins,fapViolins,cd55Violins].flatMap((gene,row)=>gene.flatMap((v,col)=>v.map(([h,w])=>({row,col,h,w,id:row+"-"+col}))));
put(Plot.plot(base(343.5,261.5,{x:{domain:[-.6,6.6],axis:null},y:{domain:[0,7],reverse:true,axis:null},color:clusterScale,marks:[
  Plot.areaX(violins,{x1:d=>d.col-.46*d.w,x2:d=>d.col+.46*d.w,y:d=>d.row+1-d.h,z:"id",fill:"col",stroke:"#000",strokeWidth:1.4,curve:"catmull-rom"}),
  Plot.ruleY(d3.range(1,7),{stroke:"#111",strokeWidth:1.6}),
  Plot.frame({stroke:"#111",strokeWidth:1.6}),
  Plot.axisX({ticks:d3.range(7),tickSize:4,tickFormat:()=>"",label:null}),
  Plot.text(subsetNames,{x:(d,i)=>i,frameAnchor:"bottom",dy:9,dx:3,rotate:-45,textAnchor:"end",lineAnchor:"middle",fontSize:23,text:d=>d,fill:"#222"}),
  Plot.text(violinGenes,{frameAnchor:"left",y:(d,i)=>i+.5,dx:-17,textAnchor:"end",fontSize:23,fontStyle:"italic",text:d=>d,fill:"#222"})
]})),111.4,848);

// ---------- Panels E, F ----------
const stacked=(a,b,c)=>[a,b,c].flatMap((arr,s)=>arr.map((v,k)=>({s:samples[s],k,v})));
const stackPlot=(data,w,h,yDomain,ticks)=>Plot.plot(base(w,h,{x:{domain:samples,padding:.35,axis:null},y:{domain:yDomain,axis:null},color:clusterScale,marks:[
  Plot.barY(data,{x:"s",y:"v",fill:"k",stroke:"#444",strokeWidth:.7}),
  Plot.frame({anchor:"left",strokeWidth:1.3}),Plot.frame({anchor:"bottom",strokeWidth:3}),
  Plot.axisY({ticks,tickSize:8,tickPadding:2,fontSize:22,tickFormat:String,label:null}),
  Plot.axisX({tickSize:8,tickFormat:()=>"",label:null}),
  Plot.text(samples,{x:d=>d,frameAnchor:"bottom",dy:14,dx:5,rotate:-45,textAnchor:"end",lineAnchor:"middle",fontSize:23,fill:"#222",text:d=>d})
]}));
put(stackPlot(stacked(pctSham,pct7d,pct28d),134,257,[0,105.8],[0,20,40,60,80,100]),596,854);
put(stackPlot(stacked(countSham,count7d,count28d),134,252,[0,8000],[0,2000,4000,6000,8000]),866.5,860);

// ---------- Panel G ----------
const foldBars=[...fold7d.map((v,k)=>({s:k,k,v})),...fold28d.map((v,k)=>({s:7.82+k,k,v}))];
put(Plot.plot(base(235,253.3,{x:{domain:[-.66,15.45],axis:null},y:{type:"linear",domain:[0,100,300,400],range:[253.3,78.5,59,0],axis:null},color:clusterScale,marks:[
  Plot.rectY(foldBars,{x1:d=>d.s+.03,x2:d=>d.s+.97,y1:0,y2:"v",fill:"k",stroke:"#555",strokeWidth:.7}),
  Plot.rect([0],{x1:5,x2:6,y1:103,y2:296,fill:"white"}),
  Plot.ruleX([-.66],{y1:0,y2:103,strokeWidth:1.2}),Plot.ruleX([-.66],{y1:297,y2:400,strokeWidth:1.2}),
  Plot.ruleY([0],{strokeWidth:3}),
  Plot.axisY({ticks:[0,25,50,75,100,300,350,400],tickSize:8,tickPadding:2,fontSize:20.5,tickFormat:String,label:null})
]})),1127,860);

// ---------- Panel H ----------
let acc=0;const goBlocks=goBlockSizes.map((n,i)=>{const b={i,a:acc-.5,b:acc+n-.5};acc+=n;return b;});
const rowDomain=[26.6,-.6];
put(Plot.plot(base(509,727.9,{x:{domain:[0,509],axis:null},y:{domain:rowDomain,axis:null},color:clusterScale,marks:[
  Plot.rect(goBlocks,{x1:0,x2:509,y1:d=>d.i===0?-.6:d.a+.05,y2:d=>d.i===6?26.6:d.b-.05,fill:"i"}),
  Plot.text(goTerms,{x:502,y:(d,i)=>i,text:d=>d,textAnchor:"end",fontSize:23,fill:"#1c1c1c"})
]})),20,1274.6);
const goDots=goRow.map((r,i)=>({r,c:goCol[i],rich:goRich[i],fdr:goFdr[i]}));
const fdrScale={type:"linear",domain:[-9,-7.5,-5.3,-3.3,-1.2,0],range:["#3953a4","#6a4ba0","#c47db0","#e4b07a","#f0d060","#f6ec42"]};
const richScale={type:"linear",domain:[.01,.1,.2,.3],range:[6,12,15.5,18.7]};
const crossing=d3.cross(d3.range(7),d3.range(27));
put(Plot.plot(base(257,727.9,{x:{domain:[-.6,6.6],axis:null},y:{domain:rowDomain,axis:null},color:fdrScale,r:richScale,marks:[
  Plot.gridX({ticks:d3.range(7),stroke:"#cfcfcf",strokeOpacity:.6}),
  Plot.gridY({ticks:d3.range(27),stroke:"#cfcfcf",strokeOpacity:.6}),
  Plot.dot(crossing,{x:d=>d[0],y:d=>d[1],r:1,fill:"#f2ea90",sort:null}),
  Plot.dot(goDots,{x:"c",y:"r",r:"rich",fill:"fdr"}),
  Plot.frame({stroke:"#222",strokeWidth:1.3}),
  Plot.axisY({ticks:d3.range(27),tickSize:6,tickFormat:()=>"",label:null}),
  Plot.axisX({ticks:d3.range(7),tickSize:5,tickFormat:()=>"",label:null}),
  Plot.text(subsetNames,{x:(d,i)=>i,frameAnchor:"bottom",dy:9,dx:4,rotate:-55,textAnchor:"end",lineAnchor:"middle",fontSize:22,text:d=>d,fill:"#1c1c1c"}),
  Plot.text(["Direction"],{x:7.05,frameAnchor:"bottom",dy:6,dx:6,rotate:-55,textAnchor:"end",lineAnchor:"middle",fontSize:23,fontWeight:"bold",text:d=>d,fill:"#111"}),
  Plot.text(goDirection,{x:7.06,y:(d,i)=>i,text:d=>d,fontSize:20,fill:"#111"})
]})),535.6,1274.6);
put(Plot.plot(base(170,46,{x:{type:"linear",domain:[.1,.2,.3],range:[48.7,86.8,130],axis:null},y:{domain:[0,1],axis:null},r:richScale,marks:[
  Plot.dot([.1,.2,.3],{x:d=>d,y:.5,r:d=>d,fill:"#060606"}),
]})),0,2040);
put(Plot.plot(base(141,27,{x:{domain:[-8.82,.11],axis:null},y:{domain:[0,1],axis:null},color:fdrScale,marks:[
  Plot.rect(d3.range(-8.82,.11,.1),{x1:d=>d,x2:d=>d+.11,y1:0,y2:1,fill:d=>d}),
  Plot.axisX({ticks:[-8,-6,-4,-2,0],tickSize:0,tickPadding:3,fontSize:22,tickFormat:String,label:null})
]})),216,2048);

// ---------- Panel I ----------
const links=[];
subsetToPattern.forEach((p,s)=>{links.push({id:s,x:134,top:s,bot:s+1,k:s},{id:s,x:267.7,top:p,bot:p+1,k:s});});
const links2=[];
patternNames.forEach((n,p)=>{links2.push({id:p,x:367.5,top:p,bot:p+1,c:patternColors[p]},{id:p,x:382,top:pathwayBlockEdges[p],bot:pathwayBlockEdges[p+1],c:patternColors[p]});});
const pitch=[.304,.277,.319,.279,.296,.196,.2];
const pathwayRows=pathwayNames.flatMap((list,b)=>list.map((t,i)=>({t,v:pathwayContribution[b][i],y:(pathwayBlockEdges[b]+pathwayBlockEdges[b+1])/2+(i-(list.length-1)/2)*pitch[b]})));
const blocksI=patternNames.map((n,p)=>({p,a:pathwayBlockEdges[p],b:pathwayBlockEdges[p+1]}));
const strokeI={stroke:"#444",strokeWidth:.9};
put(Plot.plot(base(860,768.7,{x:{domain:[0,860],axis:null},y:{domain:[7,0],axis:null},color:{type:"identity"},marks:[
  Plot.areaY(links,{x:"x",y1:"top",y2:"bot",z:"id",fill:d=>clusterColors[d.k],fillOpacity:.4,curve:"bump-x"}),
  Plot.areaY(links2,{x:"x",y1:"top",y2:"bot",z:"id",fill:"c",fillOpacity:.45,curve:"bump-x"}),
  Plot.rect(clusterIds,{x1:34,x2:134,y1:d=>d,y2:d=>d+1,fill:d=>clusterColors[d],...strokeI}),
  Plot.rect(clusterIds,{x1:267.7,x2:367.5,y1:d=>d,y2:d=>d+1,fill:d=>patternColors[d],...strokeI}),
  Plot.rect(blocksI,{x1:382,x2:717.5,y1:"a",y2:"b",fill:d=>patternColors[d.p],...strokeI}),
  Plot.rect(blocksI,{x1:729.6,x2:857.4,y1:"a",y2:"b",fill:d=>patternColors[d.p],...strokeI}),
  Plot.text(subsetNames,{x:82,y:(d,i)=>i+.5,text:d=>d,fontSize:17,fill:"#111"}),
  Plot.text(patternNames,{x:317,y:(d,i)=>i+.5,text:d=>d,fontSize:17,fill:"#111"}),
  Plot.text(pathwayRows,{x:389,y:d=>d.y-.012,text:"t",textAnchor:"start",fontSize:17.3,fill:"#111"}),
  Plot.text(pathwayRows,{x:790,y:d=>d.y-.012,text:d=>d.v.toFixed(3),fontSize:17,fill:"#111"})
]})),850,1287.8);

// ---------- Overlay: page titles, legends, panel letters ----------
const T=(list,o={})=>Plot.text(list,{x:d=>d[1],y:d=>d[2],text:d=>d[0],lineAnchor:"bottom",fill:"#161616",...o});
const legendRows=[
 ["0:","Angptl7+ fibroblasts",579,591,619,21,0],["1:","αSMA+ myofibroblasts",579,590,617,52,1],
 ["2:","IL-6+ immune-interacting",878,891,918.5,21,2],["3:","Dpp4+ progenitors",878,891,918.5,52,3],
 ["4:","Prg4ʰⁱ lining",1198,1214,1241,21,4],["5:","Sox9+ osteochondral progenitors (OCPs)",1198,1213.5,1240.5,52,5],
 ["6:","Mki67+ proliferating",1390,1403,1430,21,6]];
const legendG=clusterNames.map((n,i)=>[i+":",n,1378,1389,1416,[908,938,969,999,1029,1060,1089][i],i]);
const allLegend=[...legendRows,...legendG];
put(Plot.plot(base(1710,2100,{x:{domain:[0,1710],range:[0,1710],axis:null},y:{domain:[0,2100],range:[0,2100],axis:null},color:{type:"identity"},marks:[
  T([["A",0,42],["B",517,124],["C",2,545],["D",2,830],["E",529,830],["F",775,830],["G",1057,830],["H",2,1253],["I",855,1253]],{fontSize:46,fontWeight:"bold",textAnchor:"start"}),
  T([["Synovial fibroblasts",311,21],["Sham",704,108],["7d",1062,108],["28d",1417,108],["Common synovial fibroblast markers",272,828],["Cluster",670,815],["breakdown %",673,843],["Cluster",937,815],["breakdown #",940,843],["Cell #",1237,815],["fold change",1237,843],["Unique biological functions of fibroblast subsets",393,1231.6],["Outgoing communication patterns of fibroblasts",1287,1231.6],["GO:Biol. Processes",661,1264]],{fontSize:23,fontWeight:"bold"}),
  T([["(all conditions merged)",311,46]],{fontSize:23}),
  T([["UMAP_1",76,485]],{fontSize:23}),
  T([["UMAP_2",24,412]],{fontSize:22,rotate:-90}),
  T([["UMAP1",133,747]],{fontSize:17}),
  T([["UMAP2",25,623]],{fontSize:17,rotate:-90}),
  Plot.arrow([[39.5,455,39.5,382],[39.5,455,107,455]],{x1:d=>d[0],y1:d=>d[1],x2:d=>d[2],y2:d=>d[3],bend:false,headLength:12,strokeWidth:1.5,stroke:"#111"}),
  T([["Angptl7",360,533],["Il6",768,533],["Dpp4",975,533],["Prg4",1181,533],["Sox9",1387,533],["Mki67",1593,533]],{fontSize:23,fontStyle:"italic"}),
  T([["Acta2",494,533]],{fontSize:23,fontStyle:"italic",textAnchor:"start"}),
  T([["(αSMA)",561,533]],{fontSize:23,textAnchor:"start"}),
  T([["4",108,862],["3",108,892],["2",108,934],["2",108,971],["6",108,998],["2",108,1043],["2",108,1081]],{fontSize:11,textAnchor:"end"}),
  T([["% of synovial fibroblasts",535,988],["Total cell number",781,978],["Fold change (vs Sham)",1062,987]],{fontSize:23.5,rotate:-90}),
  T([["7d",1187,1136],["28d",1302,1136]],{fontSize:22}),
  T([["Rich ratio",87,2035],["Log₁₀(FDR)",288,2037]],{fontSize:23}),
  T([["0.1",46,2094],["0.2",87,2094],["0.3",131,2094]],{fontSize:22}),
  T([["Subsets",930.6,1273.5],["Patterns",1168,1273.5],["Signaling pathways",1400,1273.5],["Contribution",1643,1273.5]],{fontSize:24.5}),
  Plot.dot(allLegend,{x:d=>d[2],y:d=>d[5]-7,r:6,fill:d=>clusterColors[d[6]]}),
  Plot.text(allLegend,{x:d=>d[3],y:d=>d[5],text:d=>d[0],lineAnchor:"bottom",textAnchor:"start",fontSize:22.7,fontWeight:"bold",fill:"#161616"}),
  Plot.text(allLegend,{x:d=>d[4],y:d=>d[5],text:d=>d[1],lineAnchor:"bottom",textAnchor:"start",fontSize:22.7,fill:"#161616"})
]})),0,0).style.pointerEvents="none";
</script></body></html>
